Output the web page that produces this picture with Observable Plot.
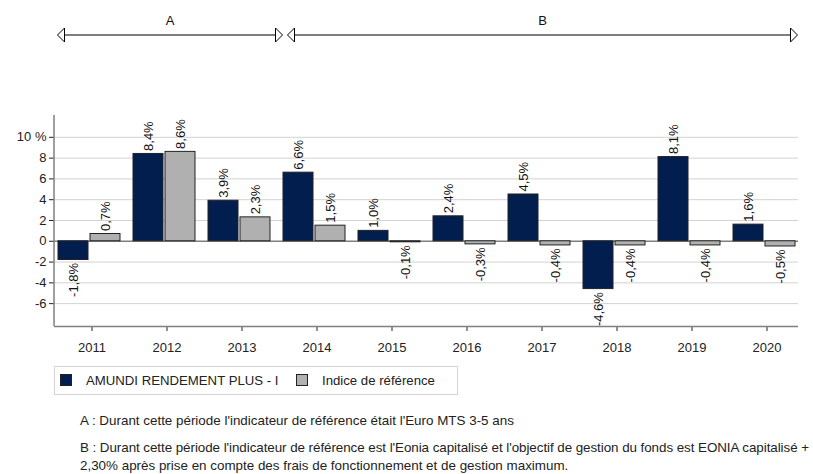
<!DOCTYPE html>
<html>
<head>
<meta charset="utf-8">
<script src="https://cdn.jsdelivr.net/npm/d3@7"></script>
<script src="https://cdn.jsdelivr.net/npm/@observablehq/plot@0.6"></script>
<style>
  html, body { margin: 0; padding: 0; background: #fff; }
  body { width: 813px; height: 474px; overflow: hidden; position: relative;
         font-family: "Liberation Sans", Arial, sans-serif; color: #222; }
  #chart { position: absolute; left: 0; top: 0; }
  #legend { position: absolute; left: 54px; top: 366px; width: 404px; height: 29px;
            box-sizing: border-box; border: 1px solid #d4d4d4; font-size: 13.2px; }
  #legend .sw { position: absolute; top: 7px; width: 12px; height: 12px; box-sizing: border-box; border: 1px solid #222; }
  #legend .lb { position: absolute; top: 0; line-height: 28px; white-space: nowrap; }
  .note { position: absolute; left: 80px; font-size: 13.4px; line-height: 18px; white-space: nowrap; color: #222; }
  #noteB .l1 { letter-spacing: -0.06px; }
</style>
</head>
<body>
<div id="chart"></div>
<div id="legend"></div>
<div class="note" id="noteA" style="top:412px"></div>
<div class="note" id="noteB" style="top:439px"></div>
<script>
const years = ["2011","2012","2013","2014","2015","2016","2017","2018","2019","2020"];
const fundValues = [-1.8, 8.4, 3.9, 6.6, 1.0, 2.4, 4.5, -4.6, 8.1, 1.6];
const refValues  = [0.7, 8.6, 2.3, 1.5, -0.1, -0.3, -0.4, -0.4, -0.4, -0.5];
const seriesNames = ["AMUNDI RENDEMENT PLUS - I", "Indice de référence"];
const seriesColors = ["#011e4f", "#b0b0b0"];
const yTicks = [-6, -4, -2, 0, 2, 4, 6, 8, 10];
const yDomain = [-8.2, 12.1];
const periods = [
  {label: "A", from: "2011", to: "2013"},
  {label: "B", from: "2014", to: "2020"}
];
const noteA = "A : Durant cette période l'indicateur de référence était l'Euro MTS 3-5 ans";
const noteB1 = "B : Durant cette période l'indicateur de référence est l'Eonia capitalisé et l'objectif de gestion du fonds est EONIA capitalisé +";
const noteB2 = "2,30% après prise en compte des frais de fonctionnement et de gestion maximum.";

const fundRows = years.map((y, i) => ({year: y, value: fundValues[i]}));
const refRows = years.map((y, i) => ({year: y, value: refValues[i]}));
const fmt = v => v.toFixed(1).replace(".", ",") + "%";

function labels(rows, dx) {
  return [
    Plot.text(rows.filter(d => d.value >= 0), {x: "year", y: "value", text: d => fmt(d.value),
      rotate: -90, textAnchor: "start", dx, dy: -3, fontSize: 13, fill: "#111"}),
    Plot.text(rows.filter(d => d.value < 0), {x: "year", y: "value", text: d => fmt(d.value),
      rotate: -90, textAnchor: "end", dx, dy: 3, fontSize: 13, fill: "#111"})
  ];
}

const chart = Plot.plot({
  width: 813,
  height: 360,
  marginLeft: 54,
  marginRight: 15,
  marginTop: 115,
  marginBottom: 34,
  style: {fontFamily: "'Liberation Sans', Arial, sans-serif", fontSize: "13px", color: "#222", background: "white"},
  x: {domain: years, range: [53.5, 803.5], padding: 0, tickSize: 5, tickPadding: 11, label: null},
  y: {domain: yDomain, ticks: yTicks, tickSize: 5, tickPadding: 3, label: null,
      tickFormat: d => d === 10 ? "10 %" : String(d)},
  marks: [
    Plot.ruleY(yTicks.filter(t => t !== 0), {stroke: "#d2d2d2", strokeWidth: 1}),
    Plot.ruleY([0], {stroke: "#7f7f7f", strokeWidth: 1.5}),
    Plot.ruleY([yDomain[0]], {stroke: "#7f7f7f", strokeWidth: 1.5}),
    Plot.barY(fundRows, {x: "year", y: "value", fill: seriesColors[0], stroke: "#222", strokeWidth: 1, insetLeft: 4, insetRight: 41}),
    Plot.barY(refRows, {x: "year", y: "value", fill: seriesColors[1], stroke: "#222", strokeWidth: 1, insetLeft: 36, insetRight: 9}),
    ...labels(fundRows, -18.5),
    ...labels(refRows, 13.5)
  ]
});
document.getElementById("chart").appendChild(chart);

// axis line on the left and period arrows, positioned from the chart's scales
const svg = d3.select(chart);
const xs = chart.scale("x");
const ys = chart.scale("y");
const bw = xs.bandwidth;
svg.append("line")
  .attr("x1", 54).attr("x2", 54)
  .attr("y1", ys.apply(yDomain[1])).attr("y2", ys.apply(yDomain[0]))
  .attr("stroke", "#7f7f7f").attr("stroke-width", 1.5);

const arrowY = 35, headL = 7, headH = 7;
periods.forEach((p, i) => {
  const x1 = xs.apply(p.from) + (i === 0 ? 3.5 : 8.5);
  const x2 = i === 0 ? xs.apply(years[years.indexOf(p.to) + 1]) + 3.5 : xs.apply(p.to) + bw - 6.5;
  const g = svg.append("g");
  g.append("line").attr("x1", x1 + headL).attr("x2", x2 - headL).attr("y1", arrowY).attr("y2", arrowY)
    .attr("stroke", "#000").attr("stroke-width", 1.2);
  g.append("path").attr("d", `M${x1},${arrowY}L${x1 + headL},${arrowY - headH}L${x1 + headL},${arrowY + headH}Z`)
    .attr("fill", "#fff").attr("stroke", "#000").attr("stroke-width", 1);
  g.append("path").attr("d", `M${x2},${arrowY}L${x2 - headL},${arrowY - headH}L${x2 - headL},${arrowY + headH}Z`)
    .attr("fill", "#fff").attr("stroke", "#000").attr("stroke-width", 1);
  g.append("text").attr("x", (x1 + x2) / 2).attr("y", 20).attr("dy", "0.35em")
    .attr("text-anchor", "middle").attr("font-size", 13).attr("fill", "#111").text(p.label);
});

// legend
const legend = d3.select("#legend");
const swX = [5, 241], lbX = [31, 267];
seriesNames.forEach((name, i) => {
  legend.append("div").attr("class", "sw").style("left", swX[i] + "px").style("background", seriesColors[i]);
  legend.append("div").attr("class", "lb").style("left", lbX[i] + "px").text(name);
});

document.getElementById("noteA").textContent = noteA;
d3.select("#noteB").append("div").attr("class", "l1").text(noteB1);
d3.select("#noteB").append("div").text(noteB2);
</script>
</body>
</html>
